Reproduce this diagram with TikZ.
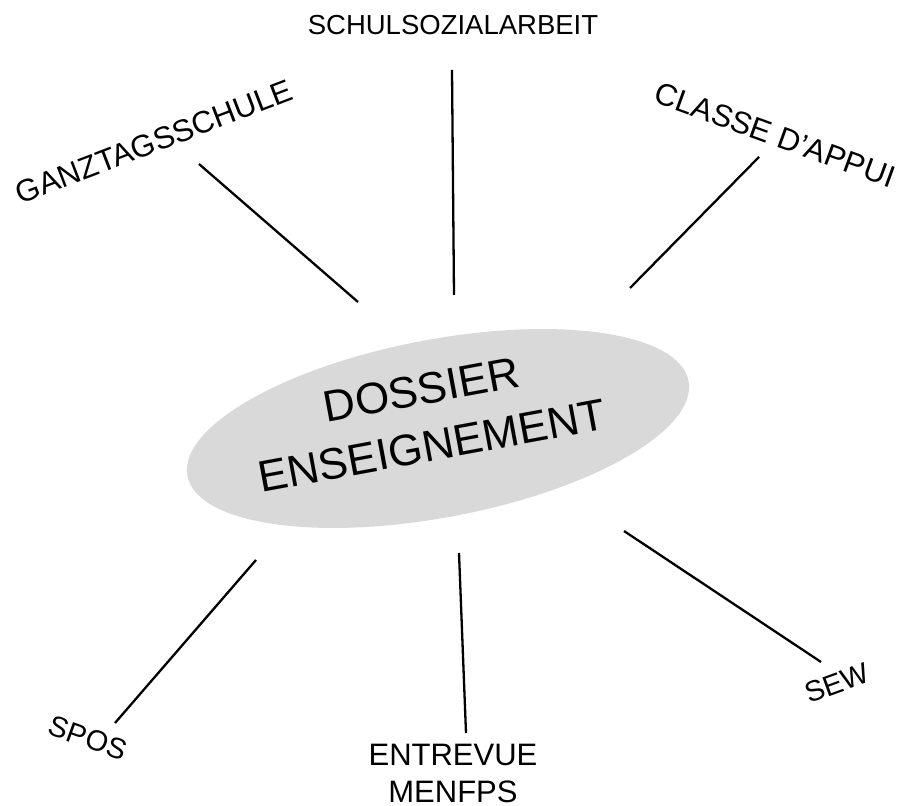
\documentclass[tikz,border=0pt]{standalone}
\usepackage{fontspec}
\setmainfont{Liberation Sans}
\usepackage{xcolor}
\usepackage{tikz}
\usetikzlibrary{shapes.geometric,positioning,calc}
\definecolor{hubgray}{RGB}{217,217,217}

\begin{document}
\begin{tikzpicture}[x=1pt, y=1pt,
    hub/.style={ellipse, fill=hubgray, draw=none, inner sep=0pt, minimum width=510pt, minimum height=178pt},
    hubtext/.style={align=center, inner sep=0pt, font=\fontsize{44}{57}\selectfont},
    lbl/.style={inner sep=0pt, font=\fontsize{29}{37}\selectfont},
    biglbl/.style={lbl, font=\fontsize{31}{37}\selectfont},
    spoke/.style={line width=2.3pt}]
    \useasboundingbox (0,0) rectangle (903,806);

    % centre
    \node [hub, rotate=10.7] (dossier) at (438,377.5) {};
    \node [hubtext, rotate=10.5] (dossiertxt) at ($(dossier.center)+(-11.3,10.7)$) {DOSSIER\\ENSEIGNEMENT};

    % labels
    \node [lbl, font=\fontsize{27.5}{33}\selectfont] (schul) at (453,781) {SCHULSOZIALARBEIT};
    \node [biglbl, rotate=21] (ganz) at (154,664) {GANZTAGSSCHULE};
    \node [biglbl, rotate=-20] (classe) at (775,671) {CLASSE D'APPUI};
    \node [lbl, rotate=-20] (spos) at (88,68) {SPOS};
    \node [biglbl, align=center] (entrevue) at (453,33) {ENTREVUE\\MENFPS};
    \node [lbl, rotate=20] (sew) at (837,123) {SEW};

    % spokes
    \coordinate (ganzA) at (199,642);   \coordinate (ganzB) at (358,504);
    \coordinate (schulA) at (452,736);  \coordinate (schulB) at (454,511);
    \coordinate (classeA) at (759,649); \coordinate (classeB) at (630,518);
    \coordinate (sposA) at (256,246);   \coordinate (sposB) at (115,83);
    \coordinate (entA) at (459,253);    \coordinate (entB) at (466,73);
    \coordinate (sewA) at (624,275);    \coordinate (sewB) at (821,144);

    \draw [spoke] (ganzA) -- (ganzB);
    \draw [spoke] (schulA) -- (schulB);
    \draw [spoke] (classeA) -- (classeB);
    \draw [spoke] (sposA) -- (sposB);
    \draw [spoke] (entA) -- (entB);
    \draw [spoke] (sewA) -- (sewB);
\end{tikzpicture}
\end{document}
